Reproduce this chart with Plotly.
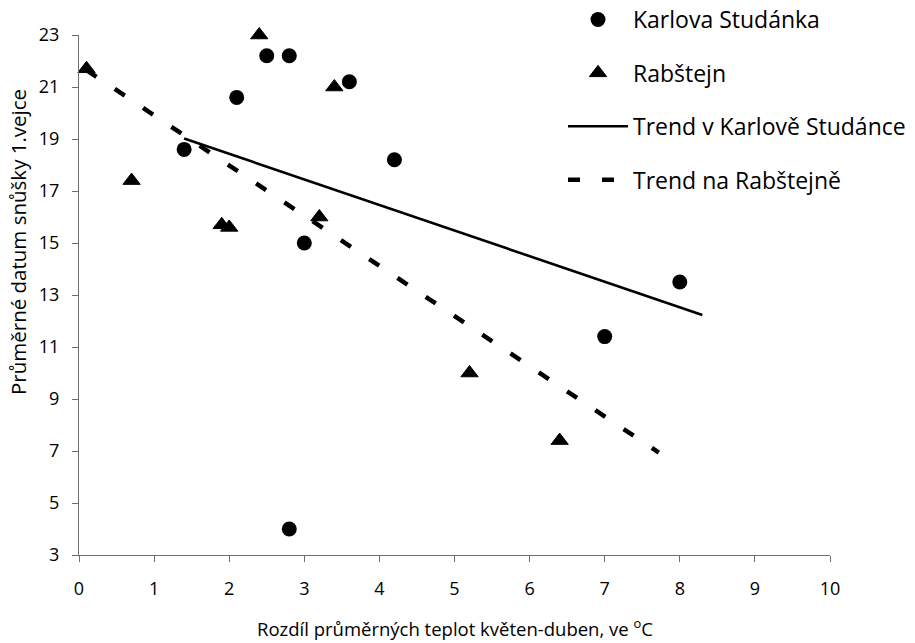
import plotly.graph_objects as go

# Karlova Studánka: temperature difference (May-April) vs mean laying date of 1st egg
ks_x = [1.4, 2.1, 2.5, 2.8, 3.6, 4.2, 3.0, 2.8, 7.0, 8.0]
ks_y = [18.6, 20.6, 22.2, 22.2, 21.2, 18.2, 15.0, 4.0, 11.4, 13.5]

# Rabštejn
rb_x = [0.1, 0.7, 1.9, 2.0, 2.4, 3.4, 3.2, 5.2, 6.4]
rb_y = [21.7, 17.4, 15.7, 15.6, 23.0, 21.0, 16.0, 10.0, 7.4]

# Linear trend lines (end points)
ks_trend_x = [1.4, 8.3]
ks_trend_y = [19.02, 12.23]
rb_trend_x = [0.1, 7.72]
rb_trend_y = [21.65, 6.94]

x_ticks = list(range(0, 11))
y_ticks = list(range(3, 24, 2))

FONT = "Open Sans"
AXIS_COLOR = "#6e6e6e"

# plot area in pixels (used to place the axis titles)
W, H = 915, 643
L, R, T, B = 79, 85, 35, 88
PW, PH = W - L - R, H - T - B


def px_to_paper_x(px):
    return (px - L) / PW


def py_to_paper_y(py):
    return (H - B - py) / PH


fig = go.Figure()

fig.add_trace(go.Scatter(
    x=ks_x, y=ks_y, mode="markers", name="Karlova Studánka",
    legendgroup="a", cliponaxis=False,
    marker=dict(symbol="circle", size=15, color="black"),
))
fig.add_trace(go.Scatter(
    x=rb_x, y=rb_y, mode="markers", name="Rabštejn",
    legendgroup="b", cliponaxis=False,
    marker=dict(symbol="triangle-up", size=15, color="black",
                line=dict(color="black", width=1)),
))
fig.add_trace(go.Scatter(
    x=ks_trend_x, y=ks_trend_y, mode="lines", name="Trend v Karlově Studánce",
    legendgroup="c",
    line=dict(color="black", width=2.6),
))
fig.add_trace(go.Scatter(
    x=rb_trend_x, y=rb_trend_y, mode="lines", name="Trend na Rabštejně",
    legendgroup="d",
    line=dict(color="black", width=4.5, dash="12px,22px"),
))

fig.update_layout(
    width=W, height=H,
    margin=dict(l=L, r=R, t=T, b=B, autoexpand=False),
    paper_bgcolor="white", plot_bgcolor="white",
    font=dict(family=FONT, color="black", size=18),
    showlegend=True,
    legend=dict(
        xref="paper", yref="paper",
        x=px_to_paper_x(563), y=py_to_paper_y(-2), xanchor="left", yanchor="top",
        font=dict(family=FONT, size=23, color="black"),
        traceorder="grouped", tracegroupgap=20.5,
        itemwidth=60,
        bgcolor="rgba(0,0,0,0)",
    ),
    xaxis=dict(
        range=[0, 10], tickvals=x_ticks, ticktext=[str(v) for v in x_ticks],
        showgrid=False, zeroline=False,
        showline=True, linecolor=AXIS_COLOR, linewidth=1.3,
        ticks="outside", ticklen=6, tickcolor=AXIS_COLOR, tickwidth=1.3,
        tickfont=dict(family=FONT, size=18, color="black"),
        ticklabelstandoff=11,
    ),
    yaxis=dict(
        range=[3, 23], tickvals=y_ticks, ticktext=[str(v) for v in y_ticks],
        showgrid=False, zeroline=False,
        showline=True, linecolor=AXIS_COLOR, linewidth=1.3,
        ticks="outside", ticklen=6, tickcolor=AXIS_COLOR, tickwidth=1.3,
        tickfont=dict(family=FONT, size=18, color="black"),
        ticklabelstandoff=9,
    ),
    annotations=[
        dict(text="Rozdíl průměrných teplot květen-duben, ve <sup>o</sup>C",
             xref="paper", yref="paper", x=0.5, y=py_to_paper_y(627),
             xanchor="center", yanchor="middle", showarrow=False,
             font=dict(family=FONT, size=18.5, color="black")),
        dict(text="Průměrné datum snůšky 1.vejce",
             xref="paper", yref="paper", x=px_to_paper_x(18), y=py_to_paper_y(242),
             xanchor="center", yanchor="middle", showarrow=False, textangle=-90,
             font=dict(family=FONT, size=20.5, color="black")),
    ],
)

fig.write_html("out.html")
